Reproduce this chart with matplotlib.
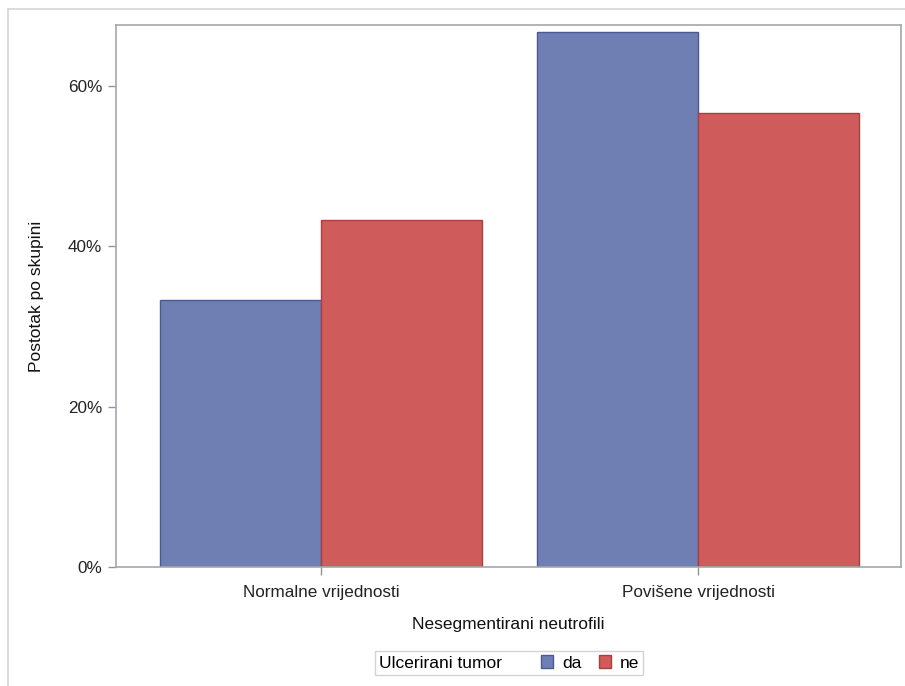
import matplotlib
matplotlib.use("Agg")
import matplotlib.pyplot as plt
import numpy as np
from matplotlib.patches import Patch
from matplotlib.offsetbox import HPacker

categories = ["Normalne vrijednosti", "Povišene vrijednosti"]
groups = ["da", "ne"]
values_da = [33.33, 66.67]
values_ne = [43.33, 56.67]
yticks = [0, 20, 40, 60]
ytick_labels = ["0%", "20%", "40%", "60%"]

plt.rcParams['font.family'] = ['Liberation Sans', 'DejaVu Sans']

W, H = 905, 686
fig = plt.figure(figsize=(W / 100, H / 100), dpi=100)
ax = fig.add_axes([116 / W, 1 - 567 / H, (901 - 116) / W, (567 - 25) / H])

fill_colors = {"da": "#6F7EB3", "ne": "#D05B5B"}
edge_colors = {"da": "#4B5A96", "ne": "#A8403F"}

x = np.arange(len(categories))
bw = 0.427
ax.bar(x - bw / 2, values_da, width=bw, color=fill_colors["da"],
       edgecolor=edge_colors["da"], linewidth=1.0, zorder=2)
ax.bar(x + bw / 2, values_ne, width=bw, color=fill_colors["ne"],
       edgecolor=edge_colors["ne"], linewidth=1.0, zorder=2)

ax.set_xlim(-0.544, 1.538)
ax.set_ylim(0, 67.6)
ax.set_xticks(x)
ax.set_xticklabels(categories)
ax.set_yticks(yticks)
ax.set_yticklabels(ytick_labels)

spine_col = "#A3A7AB"
for s in ax.spines.values():
    s.set_color(spine_col)
    s.set_linewidth(1.2)
ax.tick_params(axis='both', direction='out', length=6, width=1.0,
               color="#909498", labelsize=12.3, labelcolor="#222222")
ax.tick_params(axis='x', pad=7)
ax.tick_params(axis='y', pad=4)

ax.set_xlabel("Nesegmentirani neutrofili", fontsize=12.5, color="#111111", labelpad=12)
ax.set_ylabel("Postotak po skupini", fontsize=12.5, color="#111111", labelpad=17)

# outer frame (clipped at right/bottom in the reference)
fig.add_artist(plt.Line2D([8 / W, 1], [1 - 9 / H, 1 - 9 / H], transform=fig.transFigure,
                          color="#D4D4D4", linewidth=1.2))
fig.add_artist(plt.Line2D([8 / W, 8 / W], [0, 1 - 9 / H], transform=fig.transFigure,
                          color="#D4D4D4", linewidth=1.2))

handles = [Patch(facecolor=fill_colors[g], edgecolor=edge_colors[g], label=g) for g in groups]
leg = fig.legend(handles=handles, ncol=2, title="Ulcerirani tumor",
                 loc="center", bbox_to_anchor=(509 / W, 1 - 663 / H),
                 fontsize=12.5, title_fontsize=12.5, frameon=True, fancybox=False,
                 edgecolor="#C8C8C8", borderpad=0.25, handlelength=0.7, handleheight=0.7,
                 handletextpad=0.5, columnspacing=1.0, borderaxespad=0)
leg.get_frame().set_linewidth(1.0)
try:
    leg._legend_box.__class__ = HPacker
    leg._legend_box.sep = 28
    leg._legend_box.align = "center"
except Exception:
    pass

fig.savefig("out.png", dpi=100)
